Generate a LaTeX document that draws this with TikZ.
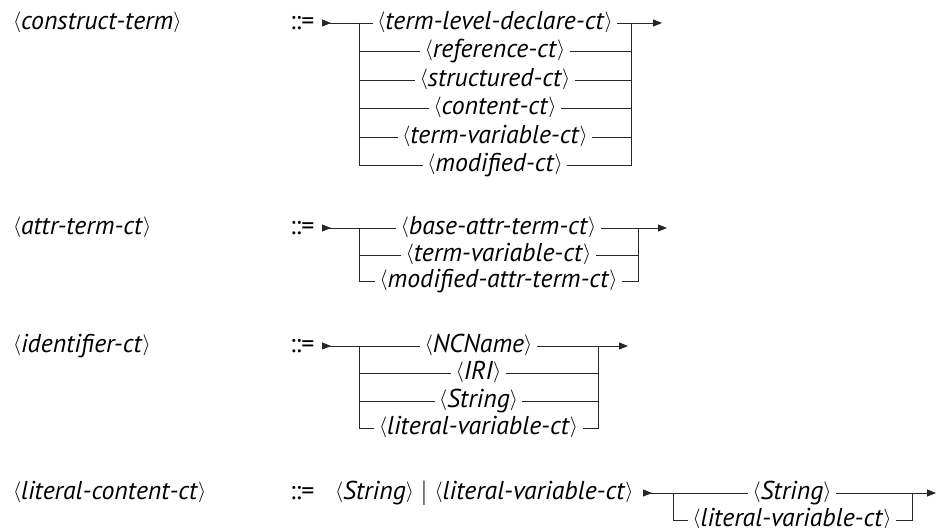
\documentclass[tikz,border=0pt]{standalone}
\usepackage{fontspec}
\setmainfont{PT Sans}
\usetikzlibrary{arrows.meta}
% angle brackets centred on the rail (kept out of the line height)
\newcommand{\abr}[1]{\smash{\raisebox{1.6pt}{\fontsize{22}{24}\selectfont$#1$}}}
% non-terminal symbol: <name> in italics
\newcommand{\nterm}[1]{\abr{\langle}\textit{#1}\abr{\rangle}}
\begin{document}
\fontsize{25.8}{30}\selectfont
\begin{tikzpicture}[x=1pt,y=-1pt,
  every node/.style={inner sep=0pt, outer sep=0pt},
  alt/.style={anchor=mid, inner xsep=5pt},
  lhs/.style={anchor=mid west},
  rail/.style={line width=0.9pt, draw=black!85, line cap=rect},
  railend/.style={rail, -{Triangle[length=9pt,width=7pt]}},
  railstart/.style={rail, {Triangle[reversed,length=9pt,width=7pt]}-},
]
\useasboundingbox (0,0) rectangle (936,527);

% ---------------- construct-term ----------------
\node[lhs] (ct)    at (13,23)  {\nterm{construct-term}};
\node[lhs] (ctdef) at (290,23) {::=};
\coordinate (ctS) at (322,23);
\coordinate (ctL) at (359,23);
\coordinate (ctR) at (631,23);
\coordinate (ctE) at (662,23);
\node[alt] (ct1) at (495,23)  {\nterm{term-level-declare-ct}};
\node[alt] (ct2) at (495,51)  {\nterm{reference-ct}};
\node[alt] (ct3) at (495,80)  {\nterm{structured-ct}};
\node[alt] (ct4) at (495,108) {\nterm{content-ct}};
\node[alt] (ct5) at (495,137) {\nterm{term-variable-ct}};
\node[alt] (ct6) at (495,165) {\nterm{modified-ct}};
\draw[railstart] (ctS) -- (ct1.mid west);
\draw[railend] (ct1.mid east) -- (ctE);
\draw[rail] (ctL) -- (ctL |- ct6.mid) -- (ct6.mid west);
\draw[rail] (ct6.mid east) -- (ctR |- ct6.mid) -- (ctR);
\foreach \i in {2,3,4,5} {
  \draw[rail] (ctL |- ct\i.mid) -- (ct\i.mid west);
  \draw[rail] (ct\i.mid east) -- (ctR |- ct\i.mid);
}

% ---------------- attr-term-ct ----------------
\node[lhs] (at)    at (13,228)  {\nterm{attr-term-ct}};
\node[lhs] (atdef) at (290,228) {::=};
\coordinate (atS) at (322,228);
\coordinate (atL) at (359,228);
\coordinate (atR) at (638,228);
\coordinate (atE) at (667,228);
\node[alt] (at1) at (498.5,228) {\nterm{base-attr-term-ct}};
\node[alt] (at2) at (498.5,255) {\nterm{term-variable-ct}};
\node[alt] (at3) at (498.5,281) {\nterm{modified-attr-term-ct}};
\draw[railstart] (atS) -- (at1.mid west);
\draw[railend] (at1.mid east) -- (atE);
\draw[rail] (atL) -- (atL |- at3.mid) -- (at3.mid west);
\draw[rail] (at3.mid east) -- (atR |- at3.mid) -- (atR);
\draw[rail] (atL |- at2.mid) -- (at2.mid west);
\draw[rail] (at2.mid east) -- (atR |- at2.mid);

% ---------------- identifier-ct ----------------
\node[lhs] (id)    at (13,346)  {\nterm{identifier-ct}};
\node[lhs] (iddef) at (290,346) {::=};
\coordinate (idS) at (322,346);
\coordinate (idL) at (359,346);
\coordinate (idR) at (598,346);
\coordinate (idE) at (628,346);
\node[alt] (id1) at (478.5,346) {\nterm{NCName}};
\node[alt] (id2) at (478.5,373) {\nterm{IRI}};
\node[alt] (id3) at (478.5,401) {\nterm{String}};
\node[alt] (id4) at (478.5,428) {\nterm{literal-variable-ct}};
\draw[railstart] (idS) -- (id1.mid west);
\draw[railend] (id1.mid east) -- (idE);
\draw[rail] (idL) -- (idL |- id4.mid) -- (id4.mid west);
\draw[rail] (id4.mid east) -- (idR |- id4.mid) -- (idR);
\foreach \i in {2,3} {
  \draw[rail] (idL |- id\i.mid) -- (id\i.mid west);
  \draw[rail] (id\i.mid east) -- (idR |- id\i.mid);
}

% ---------------- literal-content-ct ----------------
\node[lhs] (lc)    at (13,493)  {\nterm{literal-content-ct}};
\node[lhs] (lcdef) at (290,493) {::=};
\node[lhs] (lcrhs) at (335,493) {\nterm{String} $|$ \nterm{literal-variable-ct}};
\coordinate (lcS) at (643,493);
\coordinate (lcL) at (673,493);
\coordinate (lcR) at (912,493);
\coordinate (lcE) at (936,493);
\node[alt] (lc1) at (792,493) {\nterm{String}};
\node[alt] (lc2) at (792,520) {\nterm{literal-variable-ct}};
\draw[railstart] (lcS) -- (lc1.mid west);
\draw[railend] (lc1.mid east) -- (lcE);
\draw[rail] (lcL) -- (lcL |- lc2.mid) -- (lc2.mid west);
\draw[rail] (lc2.mid east) -- (lcR |- lc2.mid) -- (lcR);
\end{tikzpicture}
\end{document}
